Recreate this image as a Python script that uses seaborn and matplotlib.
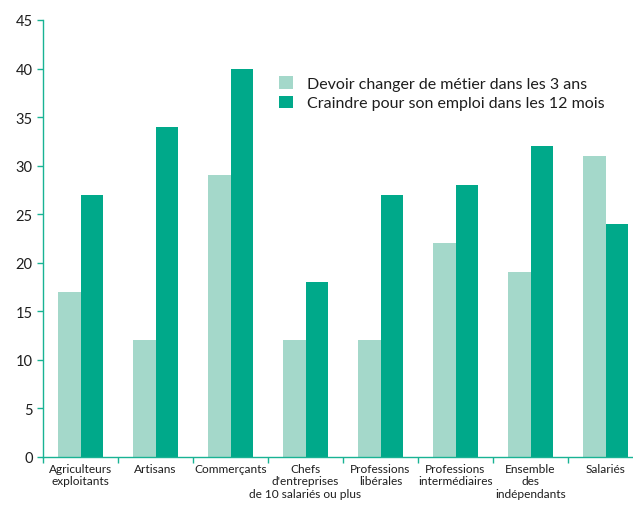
import matplotlib
matplotlib.use("Agg")
import matplotlib.pyplot as plt
import seaborn as sns
import pandas as pd

categories = ["Agriculteurs\nexploitants", "Artisans", "Commerçants",
              "Chefs\nd'entreprises", "Professions\nlibérales",
              "Professions\nintermédiaires", "Ensemble\ndes\nindépendants",
              "Salariés"]
# fin du libellé "Chefs d'entreprises ..." posée sous la catégorie
suite_chefs = "de 10 salariés ou plus"
series_names = ["Devoir changer de métier dans les 3 ans",
                "Craindre pour son emploi dans les 12 mois"]
changer_metier = [17, 12, 29, 12, 12, 22, 19, 31]
craindre_emploi = [27, 34, 40, 18, 27, 28, 32, 24]

couleurs = ["#a4d8ca", "#00a98a"]
vert_axe = "#19b394"
taille_x = 8.6
interligne = 1.2

df = pd.DataFrame({
    "categorie": categories * 2,
    "serie": [series_names[0]] * len(categories) + [series_names[1]] * len(categories),
    "valeur": changer_metier + craindre_emploi,
})

sns.set_style("white")
plt.rcParams["font.family"] = ["Lato", "DejaVu Sans"]

fig = plt.figure(figsize=(6.33, 5.06), dpi=100)
ax = fig.add_axes([43 / 633, 48 / 506, 600 / 633, 437 / 506])

sns.barplot(data=df, x="categorie", y="valeur", hue="serie", palette=couleurs,
            width=0.59, linewidth=0, saturation=1, ax=ax)

ax.set_xlim(-0.5, 7.5)
ax.set_ylim(0, 45)
ax.set_yticks(range(0, 50, 5))
ax.set_xlabel("")
ax.set_ylabel("")

for s in ["top", "right"]:
    ax.spines[s].set_visible(False)
for s in ["left", "bottom"]:
    ax.spines[s].set_color(vert_axe)
    ax.spines[s].set_linewidth(1)

ax.tick_params(axis="y", colors=vert_axe, labelcolor="#1e1e1e", labelsize=10.5,
               length=4, width=1, direction="out", left=True)
ax.tick_params(axis="x", which="major", length=0, labelsize=taille_x,
               labelcolor="#1e1e1e", pad=4)
ax.set_xticks([i - 0.5 for i in range(9)], minor=True)
ax.tick_params(axis="x", which="minor", colors=vert_axe, length=4, width=1,
               direction="out", bottom=True)
for lab in ax.get_xticklabels():
    lab.set_linespacing(interligne)

ax.annotate(suite_chefs, xy=(categories.index("Chefs\nd'entreprises"), 0),
            xycoords=("data", "axes fraction"),
            xytext=(0, -22), textcoords="offset points", ha="center", va="top",
            fontsize=taille_x, color="#1e1e1e")

ax.legend(loc="upper left", bbox_to_anchor=(0.37, 0.905), frameon=False,
          handlelength=0.85, handleheight=0.85, handletextpad=0.9,
          labelspacing=0.3, fontsize=11.5, labelcolor="#1e1e1e")

fig.savefig("out.png", dpi=100)
